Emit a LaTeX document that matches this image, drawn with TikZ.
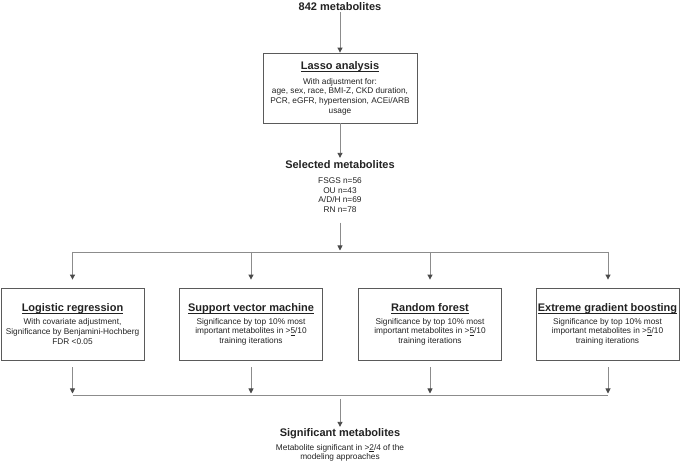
\documentclass[tikz,border=0pt]{standalone}
\usepackage{fontspec}
\setmainfont{Liberation Sans}
\usetikzlibrary{arrows.meta}
\definecolor{linec}{HTML}{8C8C8C}
\definecolor{tipc}{HTML}{4A4A4A}
\definecolor{boxc}{HTML}{5A5A5A}
\definecolor{txtc}{HTML}{222222}
\newcommand{\ulttl}[1]{\setbox0=\hbox{#1}\rlap{\rule[-2.3pt]{\wd0}{0.8pt}}\box0}
\newcommand{\ulsm}[1]{\setbox0=\hbox{#1}\rlap{\rule[-1.6pt]{\wd0}{0.5pt}}\box0}
\begin{document}
\begin{tikzpicture}[x=1pt,y=-1pt,
  ttl/.style={font=\fontsize{11}{13}\selectfont\bfseries, text=txtc, inner sep=0pt, anchor=base},
  body/.style={font=\fontsize{8.3}{9.6}\selectfont, text=txtc, align=center, inner sep=0pt},
  boxn/.style={draw=boxc, line width=0.8pt, minimum width=143pt, minimum height=72pt, inner sep=0pt},
  conn/.style={draw=linec, line width=0.9pt},
  arr/.style={conn, -{Triangle[width=5pt,length=5pt,color=tipc]}}]
\useasboundingbox (0,0) rectangle (681,465);

% top
\node[ttl] (start) at (340,11) {842 metabolites};
\node[boxn, minimum width=154pt, minimum height=70pt] (lasso) at (340,88) {};
\node[ttl] (lassot) at (340,70) {\ulttl{Lasso analysis}};
\node[body] (lassob) at (340,96.5) {With adjustment for:\\age, sex, race, BMI-Z, CKD duration,\\PCR, eGFR, hypertension, ACEi/ARB\\usage};

% selected
\node[ttl] (selt) at (340,169) {Selected metabolites};
\node[body] (seli) at (340,195) {FSGS n=56\\OU n=43\\A/D/H n=69\\RN n=78};

% model boxes
\node[boxn] (m1) at (72.5,324) {};
\node[boxn] (m2) at (251,324) {};
\node[boxn] (m3) at (430,324) {};
\node[boxn] (m4) at (607.5,324) {};
\node[ttl] (m1t) at (72.5,312) {\ulttl{Logistic regression}};
\node[ttl] (m2t) at (251,312) {\ulttl{Support vector machine}};
\node[ttl] (m3t) at (430,312) {\ulttl{Random forest}};
\node[ttl] (m4t) at (607.5,312) {\ulttl{Extreme gradient boosting}};
\node[body] (m1b) at (72.5,331.5) {With covariate adjustment,\\Significance by Benjamini-Hochberg\\FDR {\textless}0.05};
\node[body] (m2b) at (251,331.5) {Significance by top 10\% most\\important metabolites in {\textgreater}\ulsm{5}/10\\training iterations};
\node[body] (m3b) at (430,331.5) {Significance by top 10\% most\\important metabolites in {\textgreater}\ulsm{5}/10\\training iterations};
\node[body] (m4b) at (607.5,331.5) {Significance by top 10\% most\\important metabolites in {\textgreater}\ulsm{5}/10\\training iterations};

% significant
\node[ttl] (sigt) at (340,437) {Significant metabolites};
\node[body] (sigb) at (340,453) {Metabolite significant in {\textgreater}\ulsm{2}/4 of the\\modeling approaches};

% junction coordinates
\coordinate (t0) at (340,252);
\coordinate (t1) at (72.5,252);
\coordinate (t2) at (251,252);
\coordinate (t3) at (430,252);
\coordinate (t4) at (608,252);
\coordinate (u0) at (340,395);
\coordinate (u1) at (72.5,395);
\coordinate (u2) at (251,395);
\coordinate (u3) at (430,395);
\coordinate (u4) at (608,395);

% connectors
\draw[arr, shorten <=1pt] (start) -- (lasso);
\draw[arr, shorten >=3pt] (lasso) -- (selt);
\draw[arr, shorten <=10pt, shorten >=1.5pt] (seli) -- (t0);
\draw[conn] (t1) -- (t4);
\draw[arr, shorten >=8pt] (t1) -- (m1);
\draw[arr, shorten >=8pt] (t2) -- (m2);
\draw[arr, shorten >=8pt] (t3) -- (m3);
\draw[arr, shorten >=8pt] (t4) -- (m4.north -| t4);
\draw[arr, shorten <=7pt, shorten >=1.5pt] (m1) -- (u1);
\draw[arr, shorten <=7pt, shorten >=1.5pt] (m2) -- (u2);
\draw[arr, shorten <=7pt, shorten >=1.5pt] (m3) -- (u3);
\draw[arr, shorten <=7pt, shorten >=1.5pt] (m4.south -| u4) -- (u4);
\draw[conn] (u1) -- (u4);
\draw[arr, shorten <=4pt, shorten >=2pt] (u0) -- (sigt);
\end{tikzpicture}
\end{document}
